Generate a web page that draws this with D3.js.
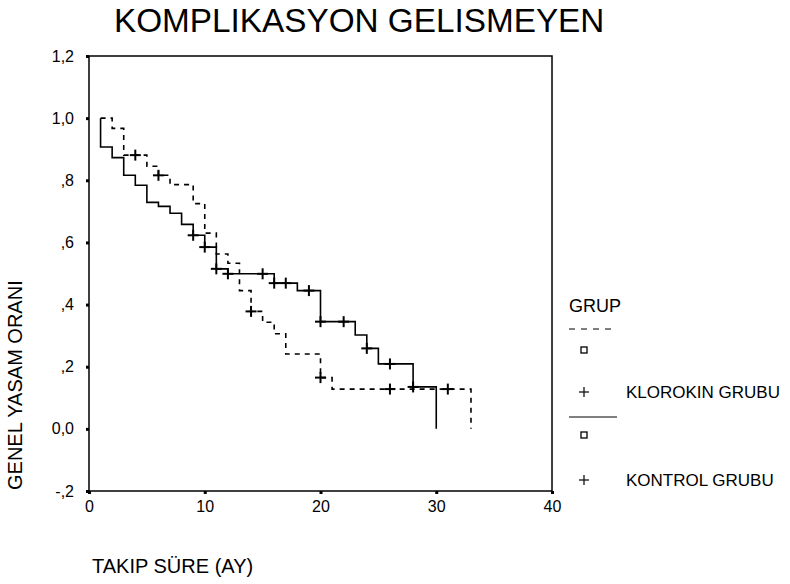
<!DOCTYPE html>
<html>
<head>
<meta charset="utf-8">
<script src="https://cdn.jsdelivr.net/npm/d3@7"></script>
<style>
  html, body { margin: 0; padding: 0; background: #fff; }
  svg { display: block; font-family: "Liberation Sans", Arial, sans-serif; }
</style>
</head>
<body>
<svg id="chart" width="790" height="584"></svg>
<script>
// Kaplan-Meier survival steps: time (months) and survival after the step
const kontrolTimes = [1, 1, 2, 3, 4, 5, 6, 7, 8, 9, 10, 11, 12, 16, 18, 20, 23, 24, 25, 28, 30];
const kontrolSurv  = [1.0, 0.907, 0.873, 0.816, 0.784, 0.729, 0.716, 0.694, 0.658, 0.623, 0.585, 0.515, 0.499, 0.469, 0.445, 0.345, 0.302, 0.259, 0.209, 0.135, 0.0];
const kontrolCensored = [9, 10, 11, 12, 15, 16, 17, 19, 20, 22, 24, 26, 28];

const klorokinTimes = [1, 2, 3, 5, 6, 7, 9, 10, 11, 12, 13, 14, 15, 16, 17, 20, 21, 33];
const klorokinSurv  = [1.0, 0.967, 0.881, 0.845, 0.816, 0.786, 0.725, 0.630, 0.563, 0.533, 0.445, 0.378, 0.343, 0.306, 0.241, 0.165, 0.128, 0.0];
const klorokinCensored = [4, 6, 14, 20, 26, 31];

const xTickValues = [0, 10, 20, 30, 40];
const yTickValues = [-0.2, 0, 0.2, 0.4, 0.6, 0.8, 1.0, 1.2];
const yTickLabels = ["-,2", "0,0", ",2", ",4", ",6", ",8", "1,0", "1,2"];

const groupNames = ["KLOROKIN GRUBU", "KONTROL GRUBU"];

const titleText = "KOMPLIKASYON GELISMEYEN";
const xTitle = "TAKIP SÜRE (AY)";
const yTitle = "GENEL YASAM ORANI";
const legendTitle = "GRUP";

const svg = d3.select("#chart");
const plot = { left: 89, right: 552, top: 56, bottom: 491 };

const x = d3.scaleLinear().domain([0, 40]).range([plot.left, plot.right]);
const y = d3.scaleLinear().domain([-0.2, 1.2]).range([plot.bottom, plot.top]);

// Title
svg.append("text")
  .attr("x", 114).attr("y", 32)
  .attr("font-size", 33.3)
  .attr("fill", "#000")
  .text(titleText);

// Frame
svg.append("rect")
  .attr("x", plot.left).attr("y", plot.top)
  .attr("width", plot.right - plot.left).attr("height", plot.bottom - plot.top)
  .attr("fill", "none").attr("stroke", "#000").attr("stroke-width", 1.5);

// Axes
const yAxis = d3.axisLeft(y)
  .tickValues(yTickValues)
  .tickFormat((d, i) => yTickLabels[i])
  .tickSize(3).tickPadding(12);
const gy = svg.append("g").attr("transform", `translate(${plot.left},0)`).call(yAxis);
gy.select(".domain").remove();
gy.selectAll(".tick line").attr("stroke", "#000").attr("stroke-width", 3);
gy.selectAll(".tick text").attr("font-size", 16).attr("fill", "#000")
  .attr("font-family", "Liberation Sans, Arial, sans-serif");

const xAxis = d3.axisBottom(x)
  .tickValues(xTickValues)
  .tickFormat(d3.format("d"))
  .tickSize(3).tickPadding(7);
const gx = svg.append("g").attr("transform", `translate(0,${plot.bottom})`).call(xAxis);
gx.select(".domain").remove();
gx.selectAll(".tick line").attr("stroke", "#000").attr("stroke-width", 3);
gx.selectAll(".tick text").attr("font-size", 16).attr("fill", "#000")
  .attr("font-family", "Liberation Sans, Arial, sans-serif");

// Axis titles
svg.append("text")
  .attr("x", 92).attr("y", 573)
  .attr("font-size", 20).attr("fill", "#000")
  .text(xTitle);

svg.append("text")
  .attr("transform", "translate(22,490) rotate(-90)")
  .attr("font-size", 20).attr("fill", "#000")
  .text(yTitle);

// Survival curves
const stepLine = d3.line()
  .x(d => x(d[0]))
  .y(d => y(d[1]))
  .curve(d3.curveStepAfter);

function survAt(times, surv, t) {
  let v = surv[0];
  for (let i = 0; i < times.length; i++) if (times[i] <= t) v = surv[i];
  return v;
}

const series = [
  { name: groupNames[0], times: klorokinTimes, surv: klorokinSurv, cens: klorokinCensored, dash: "5,5" },
  { name: groupNames[1], times: kontrolTimes, surv: kontrolSurv, cens: kontrolCensored, dash: null }
];

const plus = (g, cx, cy, r, w) => {
  g.append("line").attr("x1", cx - r).attr("x2", cx + r).attr("y1", cy).attr("y2", cy)
    .attr("stroke", "#000").attr("stroke-width", w);
  g.append("line").attr("x1", cx).attr("x2", cx).attr("y1", cy - r).attr("y2", cy + r)
    .attr("stroke", "#000").attr("stroke-width", w);
};

series.forEach(s => {
  const pts = s.times.map((t, i) => [t, s.surv[i]]);
  svg.append("path")
    .attr("d", stepLine(pts))
    .attr("fill", "none")
    .attr("stroke", "#000")
    .attr("stroke-width", 1.6)
    .attr("stroke-dasharray", s.dash);
  const g = svg.append("g");
  s.cens.forEach(t => plus(g, x(t), y(survAt(s.times, s.surv, t)), 5.5, 2));
});

// Legend
const lg = svg.append("g");
lg.append("text").attr("x", 569).attr("y", 312).attr("font-size", 18).attr("fill", "#000").text(legendTitle);

const legendRows = [
  { dash: "6,6", lineY: 329, boxY: 350, plusY: 392, label: groupNames[0] },
  { dash: null, lineY: 417, boxY: 435, plusY: 480, label: groupNames[1] }
];
legendRows.forEach(r => {
  lg.append("line").attr("x1", 569).attr("x2", 617).attr("y1", r.lineY).attr("y2", r.lineY)
    .attr("stroke", "#000").attr("stroke-width", 1.2).attr("stroke-dasharray", r.dash);
  lg.append("rect").attr("x", 581).attr("y", r.boxY - 3).attr("width", 6).attr("height", 6)
    .attr("fill", "none").attr("stroke", "#000").attr("stroke-width", 1.3);
  plus(lg, 584, r.plusY, 5, 1.2);
  lg.append("text").attr("x", 626).attr("y", r.plusY + 6).attr("font-size", 17)
    .attr("fill", "#000").text(r.label);
});
</script>
</body>
</html>
